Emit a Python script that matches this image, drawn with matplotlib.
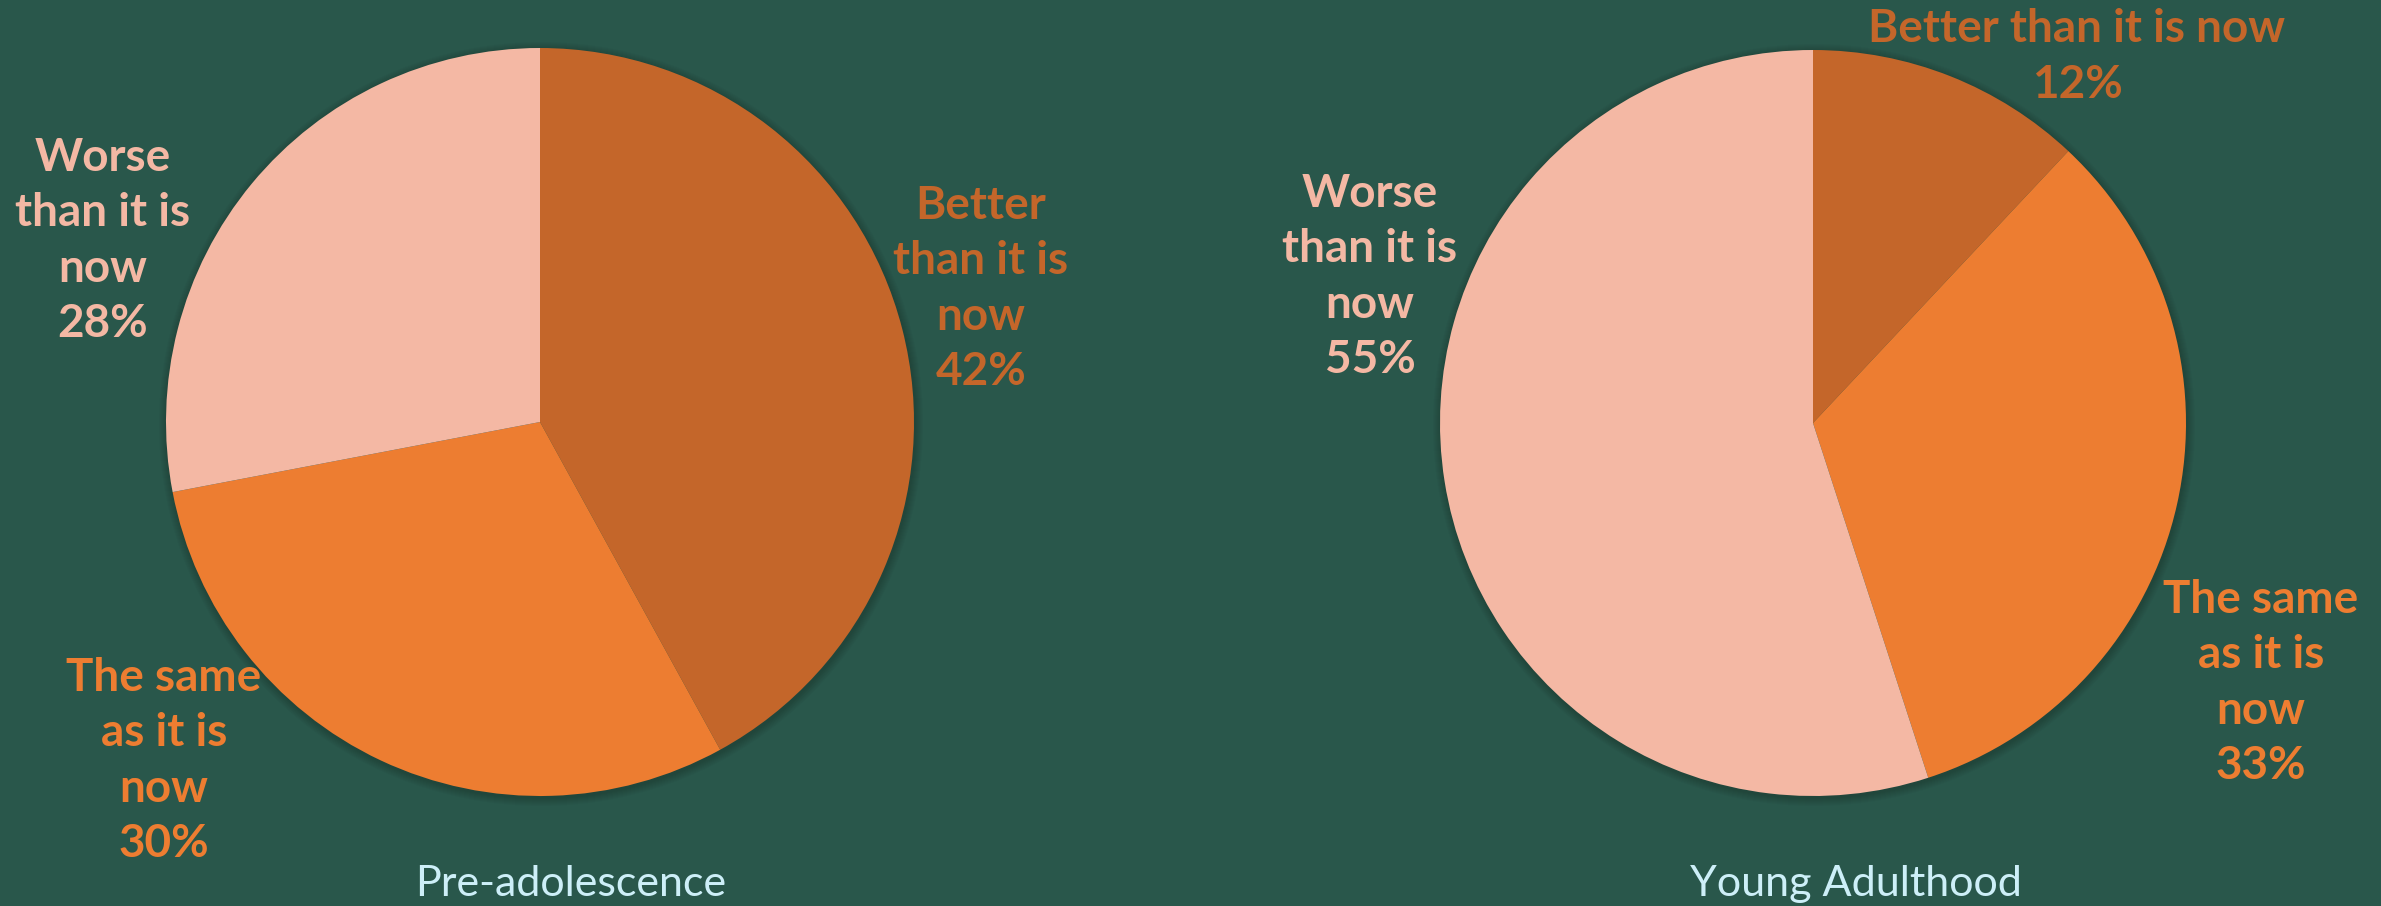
import matplotlib.pyplot as plt
from matplotlib.patches import Circle

# Responses per period (percent)
categories = ["Better than it is now", "The same as it is now", "Worse than it is now"]
pre_adolescence = [42, 30, 28]
young_adulthood = [12, 33, 55]
titles = ["Pre-adolescence", "Young Adulthood"]

# how each label is wrapped on the two pies
pre_label_lines = ["Better\nthan it is\nnow", "The same\nas it is\nnow", "Worse\nthan it is\nnow"]
young_label_lines = ["Better than it is now", "The same\nas it is\nnow", "Worse\nthan it is\nnow"]

bg = "#29574B"
colors = ["#C4662A", "#ED7D31", "#F4B8A4"]
title_color = "#CDEFF8"

W, H = 2381, 906
fig = plt.figure(figsize=(W / 100, H / 100), dpi=100, facecolor=bg)
ax = fig.add_axes([0, 0, 1, 1])
ax.set_facecolor(bg)

pies = [
    dict(values=pre_adolescence, lines=pre_label_lines, title=titles[0],
         center=(540, 422), radius=374,
         label_pos=[(981, 289), (164, 761), (103, 241)], title_pos=(571, 884)),
    dict(values=young_adulthood, lines=young_label_lines, title=titles[1],
         center=(1813, 423), radius=373,
         label_pos=[(2077, 57), (2261, 683), (1370, 277)], title_pos=(1856, 884)),
]

for p in pies:
    cx, cy = p["center"][0], H - p["center"][1]
    r = p["radius"]
    # soft shadow round the pie
    for i in range(1, 9):
        ax.add_patch(Circle((cx + 1, cy - 2), r + i, color="black", alpha=0.025, lw=0, zorder=0))
    ax.pie(p["values"], colors=colors, startangle=90, counterclock=False,
           center=(cx, cy), radius=r, wedgeprops=dict(linewidth=0),
           frame=True)
    for txt, v, (lx, ly), c in zip(p["lines"], p["values"], p["label_pos"], colors):
        ax.text(lx, H - ly, f"{txt}\n{v}%", color=c, fontsize=33, fontweight="bold",
                family="Lato", ha="center", va="center", linespacing=1.39)
    tx, ty = p["title_pos"]
    ax.text(tx, H - ty, p["title"], color=title_color, fontsize=31,
            family="Lato", ha="center", va="center")

ax.set_xlim(0, W)
ax.set_ylim(0, H)
ax.set_aspect("auto")
ax.axis("off")

fig.savefig("out.png", dpi=100, facecolor=bg)
